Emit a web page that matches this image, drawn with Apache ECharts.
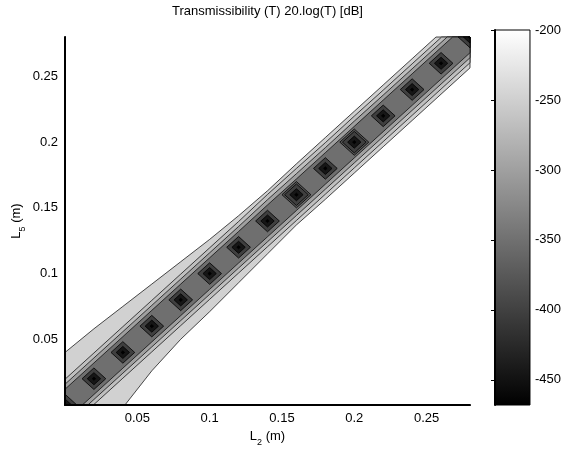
<!DOCTYPE html>
<html>
<head>
<meta charset="utf-8">
<script src="https://cdn.jsdelivr.net/npm/echarts@6/dist/echarts.min.js"></script>
<style>
  html, body { margin: 0; padding: 0; background: #fff; }
  #chart { width: 564px; height: 454px; }
</style>
</head>
<body>
<div id="chart"></div>
<script>
// contour lines: L5 (m) of each line at these L2 (m) stations
var stationL2 = [0, 0.02, 0.04, 0.06, 0.08, 0.10, 0.12, 0.14, 0.16, 0.18, 0.20, 0.22, 0.24, 0.26, 0.28, 0.30];

// pale wedge, about -248 dB
var wedgeUpperL5 = [0.040, 0.058, 0.075, 0.092, 0.109, 0.126, 0.144, 0.163, 0.1835, 0.2035, 0.2235, 0.2435, 0.2635, 0.2835, 0.3035, 0.3235];
var wedgeLowerL5 = [-0.060, -0.030, -0.002, 0.026, 0.050, 0.071, 0.093, 0.115, 0.137, 0.1565, 0.1765, 0.1965, 0.2165, 0.2365, 0.2565, 0.2765];
// about -267 dB
var ring1UpperL5 = [0.0196, 0.0396, 0.0596, 0.0796, 0.0996, 0.1196, 0.1396, 0.1602, 0.1800, 0.1996, 0.2198, 0.2396, 0.2596, 0.2796, 0.2996, 0.3196];
var ring1LowerL5 = [-0.0196, 0.0004, 0.0204, 0.0404, 0.0604, 0.0804, 0.1004, 0.1204, 0.1404, 0.1604, 0.1804, 0.2004, 0.2204, 0.2404, 0.2604, 0.2804];
// about -300 dB
var ring2UpperL5 = [0.0158, 0.0358, 0.0558, 0.0758, 0.0958, 0.1158, 0.1358, 0.1562, 0.1760, 0.1958, 0.2160, 0.2358, 0.2558, 0.2758, 0.2958, 0.3158];
var ring2LowerL5 = [-0.0158, 0.0042, 0.0242, 0.0442, 0.0642, 0.0842, 0.1042, 0.1242, 0.1442, 0.1642, 0.1842, 0.2042, 0.2242, 0.2442, 0.2642, 0.2842];
// about -351 dB core band
var coreUpperL5 = [0.0120, 0.0320, 0.0520, 0.0720, 0.0920, 0.1120, 0.1320, 0.1522, 0.1720, 0.1920, 0.2120, 0.2320, 0.2520, 0.2720, 0.2920, 0.3120];
var coreLowerL5 = [-0.0120, 0.0080, 0.0280, 0.0480, 0.0680, 0.0880, 0.1080, 0.1280, 0.1480, 0.1680, 0.1880, 0.2080, 0.2280, 0.2480, 0.2680, 0.2880];

var bandLevels = [-248, -267, -300, -351];

// minima (resonance pits) along the diagonal
var pitL2 = [0, 0.02, 0.04, 0.06, 0.08, 0.10, 0.12, 0.14, 0.16, 0.18, 0.20, 0.22, 0.24, 0.26, 0.28];
var pitL5 = [0, 0.02, 0.04, 0.06, 0.08, 0.10, 0.12, 0.14, 0.16, 0.18, 0.20, 0.22, 0.24, 0.26, 0.28];
var pitLevels = [-402, -445, -468];
// the two pits with an extra ring
var widePitL2 = [0.16, 0.20];
var widePitL5 = [0.16, 0.20];
var widePitLevel = -380;

var xTicks = [0.05, 0.1, 0.15, 0.2, 0.25];
var yTicks = [0.05, 0.1, 0.15, 0.2, 0.25];
var barTicks = [-450, -400, -350, -300, -250, -200];

var zMin = -468, zMax = -200;

var bands = [
  {upper: wedgeUpperL5, lower: wedgeLowerL5},
  {upper: ring1UpperL5, lower: ring1LowerL5},
  {upper: ring2UpperL5, lower: ring2LowerL5},
  {upper: coreUpperL5, lower: coreLowerL5}
];
// half diagonals: wide ring, outer, inner, centre
var pitHalf = [0.0100, 0.0082, 0.0046, 0.0012];

var FONT = 'Liberation Sans';

// cut a pixel polygon down to the plot rectangle
function clipPolygon(pts, rect) {
  var bounds = [[0, rect.x, 1], [0, rect.x + rect.width, -1], [1, rect.y, 1], [1, rect.y + rect.height, -1]];
  bounds.forEach(function (b) {
    var k = b[0], v = b[1], s = b[2];
    var out = [];
    var inside = function (p) { return (p[k] - v) * s >= 0; };
    for (var i = 0; i < pts.length; i++) {
      var a = pts[i], c = pts[(i + 1) % pts.length];
      var ain = inside(a), cin = inside(c);
      if (ain) out.push(a);
      if (ain !== cin) {
        var t = (v - a[k]) / (c[k] - a[k]);
        out.push([a[0] + t * (c[0] - a[0]), a[1] + t * (c[1] - a[1])]);
      }
    }
    pts = out;
  });
  return pts;
}

var bandData = bandLevels.map(function (lv, i) { return [lv, i]; });
var pitData = [];
widePitL2.forEach(function (x, i) { pitData.push([widePitLevel, x, widePitL5[i], 0]); });
pitLevels.forEach(function (lv, layer) {
  pitL2.forEach(function (x, i) { pitData.push([lv, x, pitL5[i], layer + 1]); });
});

var chart = echarts.init(document.getElementById('chart'));

var subRich = {
  n: {fontSize: 13, fontFamily: FONT, color: '#000', verticalAlign: 'top'},
  s: {fontSize: 9, fontFamily: FONT, color: '#000', verticalAlign: 'top', padding: [8, 0, 0, 0]}
};

var option = {
  backgroundColor: '#fff',
  animation: false,
  textStyle: {fontFamily: FONT, color: '#000'},
  visualMap: {
    show: false,
    type: 'continuous',
    min: zMin,
    max: zMax,
    dimension: 0,
    seriesIndex: [0, 1],
    inRange: {color: ['#000000', '#ffffff']}
  },
  grid: [
    {left: 65, top: 30, width: 405, height: 375},
    {left: 495, top: 30, width: 37, height: 375}
  ],
  xAxis: [
    {
      gridIndex: 0, type: 'value', min: 0, max: 0.28, position: 'bottom', z: 10,
      axisLine: {lineStyle: {color: '#000', width: 2}},
      axisTick: {show: false},
      splitLine: {show: false},
      axisLabel: {customValues: xTicks, color: '#000', fontSize: 13, fontFamily: FONT, margin: 7},
      name: '{n|L}{s|2}{n| (m)}', nameLocation: 'middle', nameGap: 25, nameMoveOverlap: false,
      nameTextStyle: {fontFamily: FONT, rich: subRich}
    },
    {
      gridIndex: 0, type: 'value', min: 0, max: 0.28, position: 'top', z: 10,
      axisLine: {lineStyle: {color: '#000', width: 1}},
      axisTick: {show: false}, axisLabel: {show: false}, splitLine: {show: false},
      name: 'Transmissibility (T) 20.log(T) [dB]', nameLocation: 'middle', nameGap: 19,
      nameTextStyle: {fontSize: 13, fontFamily: FONT, color: '#000'}
    },
    {gridIndex: 1, type: 'value', min: 0, max: 1, show: false}
  ],
  yAxis: [
    {
      gridIndex: 0, type: 'value', min: 0, max: 0.28, position: 'left', z: 10,
      axisLine: {show: true, lineStyle: {color: '#000', width: 1}},
      axisTick: {show: false},
      splitLine: {show: false},
      axisLabel: {customValues: yTicks, color: '#000', fontSize: 13, fontFamily: FONT, margin: 7},
      name: '{n|L}{s|5}{n| (m)}', nameLocation: 'middle', nameGap: 38, nameRotate: 90, nameMoveOverlap: false,
      nameTextStyle: {fontFamily: FONT, rich: subRich}
    },
    {
      gridIndex: 0, type: 'value', min: 0, max: 0.28, position: 'right', z: 10,
      axisLine: {show: true, lineStyle: {color: '#000', width: 2}},
      axisTick: {show: false}, axisLabel: {show: false}, splitLine: {show: false}
    },
    {
      gridIndex: 1, type: 'value', min: zMin, max: zMax, position: 'right', z: 10,
      axisLine: {show: true, lineStyle: {color: '#000', width: 2}},
      axisTick: {show: true, customValues: barTicks, inside: true, length: 4, lineStyle: {color: '#000'}},
      splitLine: {show: false},
      axisLabel: {customValues: barTicks, color: '#000', fontSize: 13, fontFamily: FONT, margin: 5}
    }
  ],
  series: [
    {
      type: 'custom',
      xAxisIndex: 0, yAxisIndex: 0,
      data: bandData,
      renderItem: function (params, api) {
        var b = bands[api.value(1)];
        var pts = [];
        stationL2.forEach(function (x, i) { pts.push(api.coord([x, b.upper[i]])); });
        for (var i = stationL2.length - 1; i >= 0; i--) pts.push(api.coord([stationL2[i], b.lower[i]]));
        return {
          type: 'polygon',
          shape: {points: clipPolygon(pts, params.coordSys)},
          style: {fill: api.visual('color'), stroke: '#000', lineWidth: 0.7}
        };
      }
    },
    {
      type: 'custom',
      xAxisIndex: 0, yAxisIndex: 0,
      data: pitData,
      renderItem: function (params, api) {
        var c = api.coord([api.value(1), api.value(2)]);
        var h = pitHalf[api.value(3)];
        var hx = api.size([h, 0])[0], hy = api.size([0, h])[1];
        var pts = [[c[0], c[1] - hy], [c[0] + hx, c[1]], [c[0], c[1] + hy], [c[0] - hx, c[1]]];
        return {
          type: 'polygon',
          shape: {points: clipPolygon(pts, params.coordSys)},
          style: {fill: api.visual('color'), stroke: '#000', lineWidth: 0.8}
        };
      }
    },
    {
      type: 'custom',
      xAxisIndex: 2, yAxisIndex: 2,
      data: [[0, zMin, 1, zMax]],
      renderItem: function (params, api) {
        var p0 = api.coord([api.value(0), api.value(3)]);
        var p1 = api.coord([api.value(2), api.value(1)]);
        return {
          type: 'rect',
          shape: {x: p0[0], y: p0[1], width: p1[0] - p0[0], height: p1[1] - p0[1]},
          style: {
            fill: new echarts.graphic.LinearGradient(0, 0, 0, 1, [
              {offset: 0, color: '#ffffff'},
              {offset: 1, color: '#000000'}
            ]),
            stroke: '#000', lineWidth: 1
          }
        };
      }
    }
  ]
};

chart.setOption(option);
</script>
</body>
</html>
